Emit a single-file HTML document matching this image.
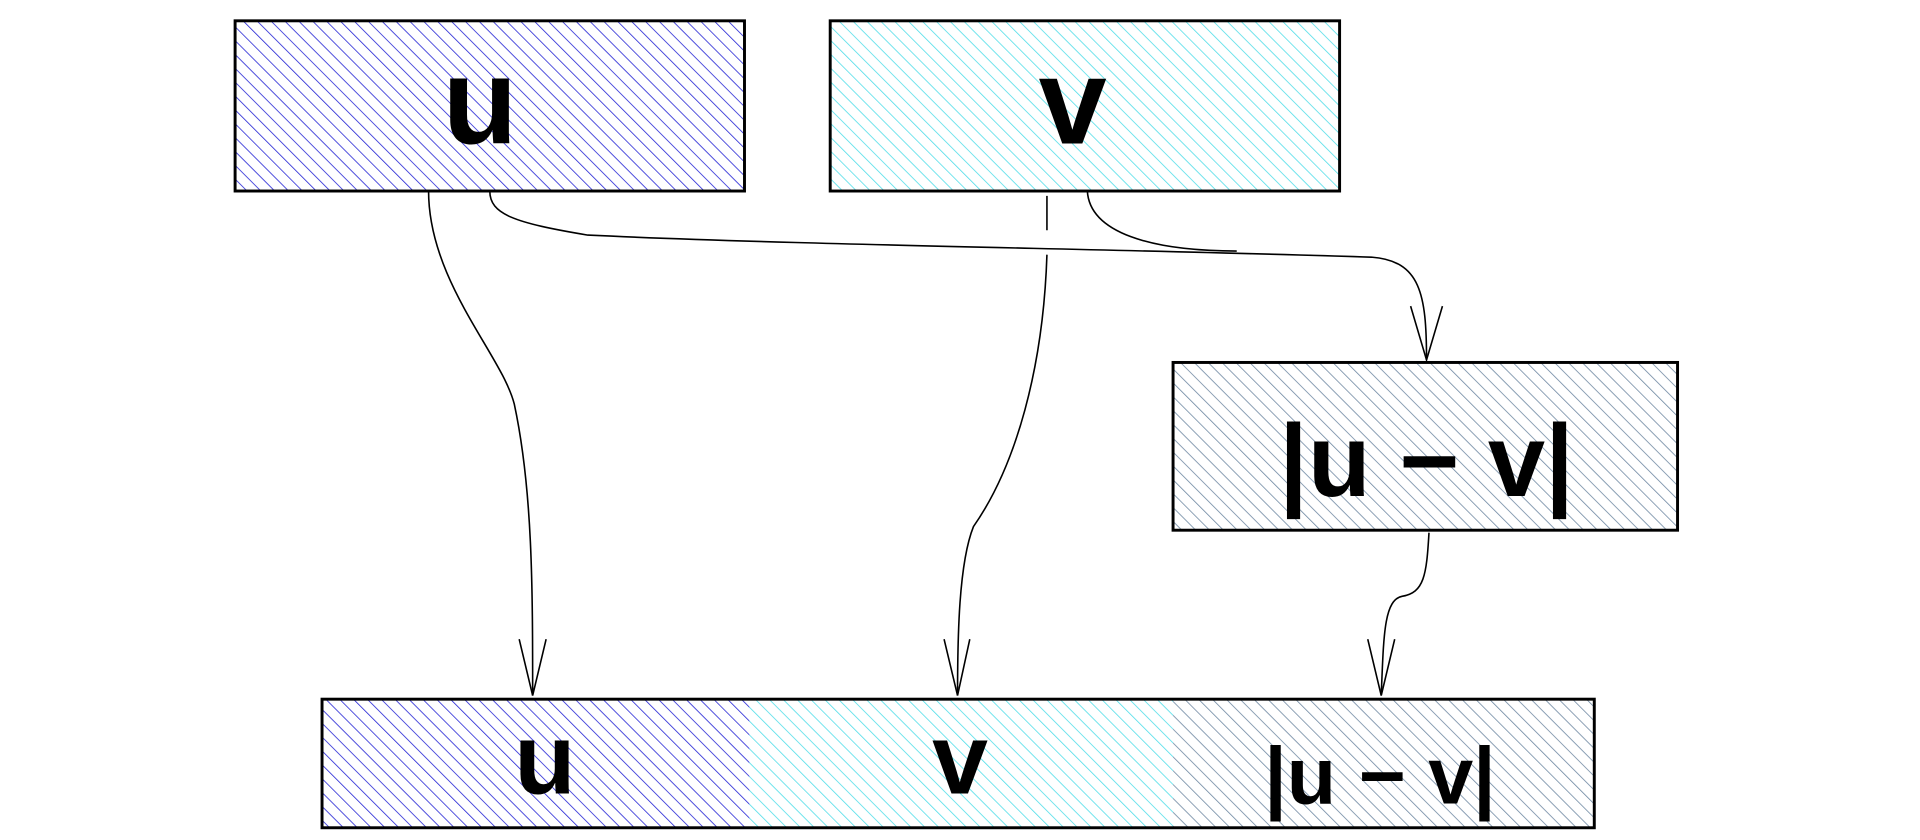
<!DOCTYPE html>
<html><head><style>html,body{margin:0;padding:0;background:#fff;}svg{display:block}</style></head>
<body>
<svg width="1920" height="840" viewBox="0 0 1568 686" xmlns="http://www.w3.org/2000/svg">
<defs>
<pattern id="hb" width="8" height="8" patternUnits="userSpaceOnUse" patternTransform="rotate(-45)">
<line x1="0" y1="0" x2="0" y2="8" stroke="#2525d5" stroke-width="1.3"/></pattern>
<pattern id="hc" width="8" height="8" patternUnits="userSpaceOnUse" patternTransform="rotate(-45)">
<line x1="0" y1="0" x2="0" y2="8" stroke="#50dde8" stroke-width="1.3"/></pattern>
<pattern id="hg" width="8" height="8" patternUnits="userSpaceOnUse" patternTransform="rotate(-45)">
<line x1="0" y1="0" x2="0" y2="8" stroke="#6f88a2" stroke-width="1.3"/></pattern>
</defs>
<g stroke="#000" stroke-width="2.4">
<rect x="192" y="17" width="416" height="139" fill="url(#hb)"/>
<rect x="678" y="17" width="416" height="139" fill="url(#hc)"/>
<rect x="958" y="296" width="412" height="137" fill="url(#hg)"/>
<rect x="263" y="571" width="349" height="105" fill="url(#hb)" stroke="none"/>
<rect x="612" y="571" width="346" height="105" fill="url(#hc)" stroke="none"/>
<rect x="958" y="571" width="344" height="105" fill="url(#hg)" stroke="none"/>
<rect x="263" y="571" width="1039" height="105" fill="none"/>
</g>
<g fill="none" stroke="#000" stroke-width="1.3">
<path d="M350 156 C350 230 410 290 420 330 C435 400 435 480 435 568"/>
<path d="M424 522 L435 568 L446 522"/>
<path d="M855 160 L855 188 M855 208 C852 300 830 380 795 430 C783 460 782 520 782 568"/>
<path d="M771 522 L782 568 L792 522"/>
<path d="M400 156 C400 175 420 182 480 192 C650 200 900 203 1120 210 C1160 213 1165 240 1165 294"/>
<path d="M888 156 C890 190 940 205 1010 205"/>
<path d="M1152 250 L1165 294 L1178 250"/>
<path d="M1167 435 C1165 470 1163 484 1145 487 C1130 490 1130 520 1128 568"/>
<path d="M1117 522 L1128 568 L1139 522"/>
</g>
<g font-family="Liberation Sans, sans-serif" font-weight="bold" text-anchor="middle" fill="#000">
<text x="392" y="117" font-size="100">u</text>
<text x="876" y="117" font-size="100">v</text>
<text x="445" y="648" font-size="82">u</text>
<text x="784" y="648" font-size="82">v</text>
<text x="1165" y="405" font-size="84">|u − v|</text>
<text x="1127" y="656" font-size="66">|u − v|</text>
</g>
</svg>
</body></html>
